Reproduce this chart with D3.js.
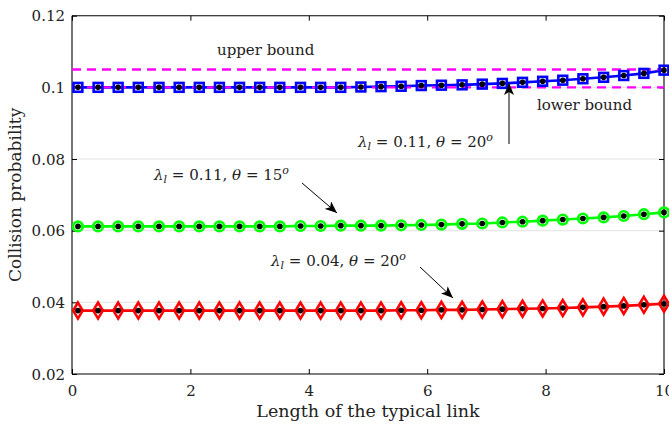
<!DOCTYPE html>
<html><head><meta charset="utf-8">
<script src="https://cdn.jsdelivr.net/npm/d3@7"></script>
<style>
html,body{margin:0;padding:0;background:#fff;}
svg text{font-family:"DejaVu Serif",serif;fill:#222;}
</style></head>
<body><svg id="c" width="669" height="424"></svg>
<script>
// ---- data ----
const xVals = [0.10,0.44,0.78,1.12,1.47,1.81,2.15,2.49,2.83,3.17,3.51,3.86,4.20,4.54,4.88,
               5.22,5.56,5.90,6.24,6.59,6.93,7.27,7.61,7.95,8.29,8.63,8.98,9.32,9.66,10.00];
const blueVals = [0.1000,0.1000,0.1000,0.1000,0.1000,0.1000,0.1000,0.1000,0.1000,0.1000,
                  0.1000,0.1000,0.1000,0.1000,0.1001,0.1002,0.1003,0.1005,0.1006,0.1007,
                  0.1009,0.1011,0.1014,0.1017,0.1020,0.1024,0.1028,0.1033,0.1039,0.1048];
const greenVals = [0.0612,0.0612,0.0612,0.0612,0.0612,0.0612,0.0612,0.0612,0.0612,0.0612,
                   0.0612,0.0613,0.0613,0.0614,0.0614,0.0614,0.0615,0.0616,0.0617,0.0619,
                   0.0620,0.0623,0.0625,0.0628,0.0631,0.0634,0.0637,0.0641,0.0646,0.0651];
const redVals = [0.0377,0.0377,0.0377,0.0377,0.0377,0.0377,0.0377,0.0377,0.0377,0.0377,
                 0.0377,0.0377,0.0377,0.0377,0.0377,0.0377,0.0378,0.0378,0.0379,0.0379,
                 0.0380,0.0381,0.0382,0.0383,0.0384,0.0386,0.0388,0.0390,0.0393,0.0396];
const upperBound = 0.105;
const lowerBound = 0.100;
const xTicks = [0,2,4,6,8,10];
const yTicks = [0.02,0.04,0.06,0.08,0.1,0.12];
const yTickLabels = ["0.02","0.04","0.06","0.08","0.1","0.12"];

// ---- layout ----
const svg = d3.select("#c");
const L=72, R=664, T=15.7, B=374;
const x = d3.scaleLinear().domain([0,10]).range([L,R]);
const y = d3.scaleLinear().domain([0.02,0.12]).range([B,T]);

// grid
svg.append("g").selectAll("line").data(yTicks.slice(1,-1)).join("line")
  .attr("x1",L).attr("x2",R).attr("y1",d=>y(d)).attr("y2",d=>y(d))
  .attr("stroke","#e3e3e3").attr("stroke-width",1);

// axes
const axB = d3.axisBottom(x).tickValues(xTicks).tickSize(-5).tickFormat(d3.format("d"));
const axT = d3.axisTop(x).tickValues(xTicks).tickSize(-5).tickFormat("");
const axL = d3.axisLeft(y).tickValues(yTicks).tickSize(-5).tickFormat((d,i)=>yTickLabels[i]);
const axR = d3.axisRight(y).tickValues(yTicks).tickSize(-5).tickFormat("");
function style(g){
  g.selectAll(".domain").attr("stroke","#000").attr("stroke-width",1.1);
  g.selectAll(".tick line").attr("stroke","#000").attr("stroke-width",1);
  g.selectAll("text").attr("font-family","DejaVu Serif").attr("font-size",15).attr("fill","#222");
}
svg.append("g").attr("transform",`translate(0,${B})`).call(axB).call(style)
  .call(g=>g.selectAll(".domain").attr("d",`M${L},0H${R}`))
  .selectAll("text").attr("dy","1.25em");
svg.append("g").attr("transform",`translate(0,${T})`).call(axT).call(style)
  .call(g=>g.selectAll(".domain").attr("d",`M${L},0H${R}`));
svg.append("g").attr("transform",`translate(${L},0)`).call(axL).call(style)
  .call(g=>g.selectAll(".domain").attr("d",`M0,${B}V${T}`))
  .selectAll("text").attr("x",-7).attr("dy","0.35em");
svg.append("g").attr("transform",`translate(${R},0)`).call(axR).call(style)
  .call(g=>g.selectAll(".domain").attr("d",`M0,${B}V${T}`));

const line = d3.line().x(d=>x(d[0])).y(d=>y(d[1]));
const series = [
  {vals:blueVals, color:"#0000ff", marker:"square"},
  {vals:greenVals, color:"#00ff00", marker:"circle"},
  {vals:redVals, color:"#ff0000", marker:"diamond"}
];

// lines
series.forEach(s=>{
  svg.append("path").datum(xVals.map((xv,i)=>[xv,s.vals[i]]))
    .attr("d",line).attr("fill","none").attr("stroke",s.color).attr("stroke-width",2.6);
});

// bounds
[upperBound, lowerBound].forEach(b=>{
  svg.append("line").attr("x1",x(0)).attr("x2",x(10)).attr("y1",y(b)).attr("y2",y(b))
    .attr("stroke","#ff00ff").attr("stroke-width",2.4).attr("stroke-dasharray","9,6");
});

// markers
const sqSym = d3.symbol().type(d3.symbolSquare).size(72);
series.forEach(s=>{
  const g = svg.append("g");
  const pts = xVals.map((xv,i)=>[xv,s.vals[i]]);
  if(s.marker==="square"){
    g.selectAll("rect").data(pts).join("rect")
      .attr("x",d=>x(d[0])-4.4).attr("y",d=>y(d[1])-4.4).attr("width",8.8).attr("height",8.8)
      .attr("fill","none").attr("stroke",s.color).attr("stroke-width",2.6);
  } else if(s.marker==="circle"){
    g.selectAll("circle").data(pts).join("circle")
      .attr("cx",d=>x(d[0])).attr("cy",d=>y(d[1])).attr("r",4.8)
      .attr("fill","none").attr("stroke",s.color).attr("stroke-width",2.6);
  } else {
    g.selectAll("path").data(pts).join("path")
      .attr("d",d=>{const cx=x(d[0]),cy=y(d[1]);return `M${cx},${cy-8}L${cx+4.8},${cy}L${cx},${cy+8}L${cx-4.8},${cy}Z`;})
      .attr("fill","none").attr("stroke",s.color).attr("stroke-width",2.6);
  }
  g.selectAll("circle.dot").data(pts).join("circle").attr("class","dot")
    .attr("cx",d=>x(d[0])).attr("cy",d=>y(d[1])).attr("r",2.8).attr("fill","#000");
});

// axis labels
svg.append("text").attr("x",(L+R)/2).attr("y",417).attr("text-anchor","middle")
  .attr("font-size",17.5).text("Length of the typical link");
svg.append("text").attr("transform",`translate(21,${(T+B)/2}) rotate(-90)`).attr("text-anchor","middle")
  .attr("font-size",17).text("Collision probability");

// annotations
svg.append("text").attr("x",217).attr("y",55).attr("font-size",15).text("upper bound");
svg.append("text").attr("x",537).attr("y",110).attr("font-size",15).text("lower bound");

function mathLabel(xp,yp,lam,th){
  const t = svg.append("text").attr("x",xp).attr("y",yp).attr("font-size",15);
  t.append("tspan").attr("font-style","italic").text("λ");
  t.append("tspan").attr("font-style","italic").attr("font-size",11).attr("dy",3).text("l");
  t.append("tspan").attr("dy",-3).text(" = "+lam+", ");
  t.append("tspan").attr("font-style","italic").text("θ");
  t.append("tspan").text(" = "+th);
  t.append("tspan").attr("font-style","italic").attr("font-size",11).attr("dy",-6).text("o");
}
mathLabel(358,147,"0.11","20");
mathLabel(154,180,"0.11","15");
mathLabel(271,266,"0.04","20");

// arrows
svg.append("defs").append("marker").attr("id","ah").attr("viewBox","0 0 12 10")
  .attr("refX",12).attr("refY",5).attr("markerWidth",12).attr("markerHeight",10)
  .attr("markerUnits","userSpaceOnUse").attr("orient","auto")
  .append("path").attr("d","M0,0L12,5L0,10L3,5Z").attr("fill","#000");
[[509,144,509,83],[302,183,337,213],[420,267,453,298]].forEach(a=>{
  svg.append("line").attr("x1",a[0]).attr("y1",a[1]).attr("x2",a[2]).attr("y2",a[3])
    .attr("stroke","#000").attr("stroke-width",1).attr("marker-end","url(#ah)");
});
</script></body></html>
